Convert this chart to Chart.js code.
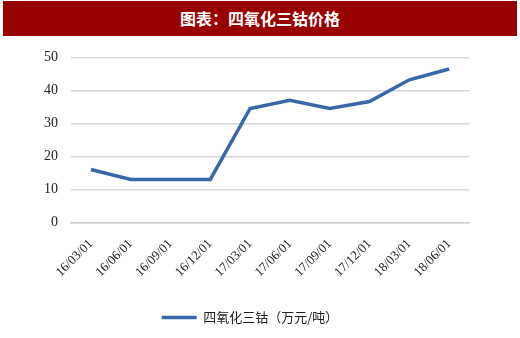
<!DOCTYPE html>
<html>
<head>
<meta charset="utf-8">
<script src="https://cdn.jsdelivr.net/npm/chart.js@4/dist/chart.umd.min.js"></script>
<style>
  body { margin: 0; background: #fff; width: 520px; height: 338px; overflow: hidden; }
  #title {
    position: absolute; left: 3px; top: 1px; width: 514px; height: 35px;
    background: #990000; color: #fff; text-align: center;
    font: bold 16px "Noto Sans CJK SC", sans-serif; line-height: 35px;
  }
  #wrap { position: absolute; left: 0; top: 36px; width: 520px; height: 302px; }
</style>
</head>
<body>
<div id="title">图表：四氧化三钴价格</div>
<div id="wrap"><canvas id="chart" width="520" height="302"></canvas></div>
<script>
var labels = ["16/03/01", "16/06/01", "16/09/01", "16/12/01", "17/03/01",
              "17/06/01", "17/09/01", "17/12/01", "18/03/01", "18/06/01"];
var prices = [16, 13, 13, 13, 34.5, 37, 34.5, 36.6, 43.2, 46.5];
var seriesName = "四氧化三钴（万元/吨）";

var ctx = document.getElementById("chart");
var chart = new Chart(ctx, {
    type: "line",
    data: {
        labels: labels,
        datasets: [
            {
                label: seriesName,
                data: prices,
                borderColor: "#3A67A8",
                backgroundColor: "#3A67A8",
                borderWidth: 3.5,
                pointRadius: 0,
                tension: 0
            }
        ]
    },
    options: {
        responsive: false,
        animation: false,
        layout: { padding: { left: 31, right: 51, top: 14, bottom: 4 } },
        plugins: {
            legend: {
                position: "bottom",
                labels: {
                    usePointStyle: true,
                    pointStyle: "line",
                    pointStyleWidth: 35,
                    color: "#222",
                    font: { family: "Noto Sans CJK SC", size: 13 },
                    padding: 17
                }
            },
            tooltip: { enabled: false }
        },
        scales: {
            x: {
                offset: true,
                grid: { display: false, drawTicks: false },
                border: { color: "#d0d0d0", width: 1.5 },
                ticks: {
                    maxRotation: 45, minRotation: 45,
                    color: "#222", padding: 14,
                    font: { family: "Liberation Serif", size: 13 }
                }
            },
            y: {
                min: 0, max: 50,
                grid: { color: "#d6d6d6", lineWidth: 1.5, drawTicks: false },
                border: { display: false },
                ticks: {
                    stepSize: 10, padding: 13, color: "#222",
                    font: { family: "Liberation Serif", size: 14 }
                }
            }
        }
    }
});
</script>
</body>
</html>
